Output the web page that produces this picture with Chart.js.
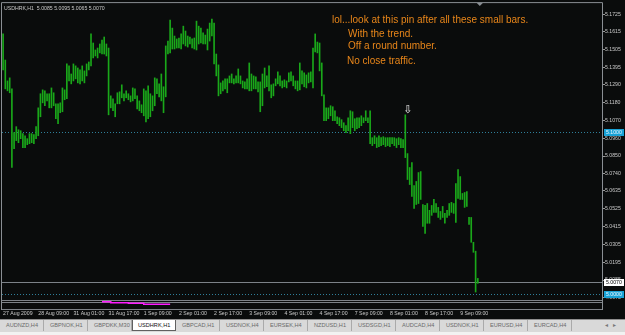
<!DOCTYPE html>
<html>
<head>
<meta charset="utf-8">
<script src="https://cdn.jsdelivr.net/npm/chart.js@4.4.1/dist/chart.umd.min.js"></script>
<style>
  html, body { margin: 0; padding: 0; background: #0a0c0c; width: 625px; height: 335px; overflow: hidden; }
  #wrap { position: relative; width: 625px; height: 319px; }
  #tabs { display: flex; height: 16px; background: #d9d9d9; border-top: 1px solid #8e8e8e; box-sizing: border-box;
          border-bottom: 3px solid #f2f2f2; font-family: 'Liberation Sans', Arial, sans-serif; }
  .tab { width: 44px; flex: none; box-sizing: border-box; padding-left: 6px; font-size: 5.6px; line-height: 11px;
         height: 11px; color: #6a6a6a; border-right: 1px solid #aaaaaa; white-space: nowrap; }
  .tab.active { background: #fff; color: #111; border: 1px solid #606060; border-top: none; padding-left: 5px; }
  .nav { margin-left: auto; padding-right: 4px; font-size: 6px; line-height: 11px; color: #777; letter-spacing: 5px; }
</style>
</head>
<body>
<div id="wrap"><canvas id="chart" width="625" height="319"></canvas></div>
<div id="tabs">
  <div class="tab">AUDNZD,H4</div>
  <div class="tab">GBPNOK,H1</div>
  <div class="tab">GBPDKK,M30</div>
  <div class="tab active">USDHRK,H1</div>
  <div class="tab">GBPCAD,H1</div>
  <div class="tab">USDNOK,H4</div>
  <div class="tab">EURSEK,H4</div>
  <div class="tab">NZDUSD,H1</div>
  <div class="tab">USDSGD,H1</div>
  <div class="tab">AUDCAD,H4</div>
  <div class="tab">USDNOK,H1</div>
  <div class="tab">EURUSD,H4</div>
  <div class="tab">EURCAD,H4</div>
  <div class="nav">◂▸</div>
</div>
<script>
// USDHRK H1 bars (high / low per bar)
const highs = [
  5.1603, 5.1442, 5.1313, 5.1332, 5.1264, 5.0994, 5.1031, 5.1012, 5.1006, 5.0988,
  5.0975, 5.0957, 5.0988, 5.0988, 5.0982, 5.1031, 5.1147, 5.1234, 5.1258, 5.1252,
  5.1234, 5.1234, 5.1270, 5.1240, 5.1172, 5.1172, 5.1178, 5.1270, 5.1258, 5.1418,
  5.1406, 5.1356, 5.1418, 5.1406, 5.1393, 5.1381, 5.1406, 5.1375, 5.1418, 5.1430,
  5.1603, 5.1547, 5.1504, 5.1516, 5.1541, 5.1565, 5.1584, 5.1541, 5.1516, 5.1221,
  5.1203, 5.1172, 5.1240, 5.1246, 5.1289, 5.1234, 5.1252, 5.1234, 5.1221, 5.1270,
  5.1264, 5.1221, 5.1190, 5.1166, 5.1264, 5.1252, 5.1283, 5.1234, 5.1221, 5.1332,
  5.1326, 5.1295, 5.1356, 5.1277, 5.1529, 5.1559, 5.1689, 5.1639, 5.1590, 5.1572,
  5.1578, 5.1603, 5.1651, 5.1621, 5.1590, 5.1584, 5.1572, 5.1578, 5.1682, 5.1651,
  5.1639, 5.1609, 5.1596, 5.1633, 5.1670, 5.1695, 5.1670, 5.1479, 5.1412, 5.1301,
  5.1313, 5.1326, 5.1326, 5.1344, 5.1356, 5.1326, 5.1344, 5.1387, 5.1344, 5.1313,
  5.1307, 5.1326, 5.1424, 5.1356, 5.1344, 5.1338, 5.1307, 5.1307, 5.1356, 5.1393,
  5.1344, 5.1406, 5.1289, 5.1295, 5.1326, 5.1369, 5.1344, 5.1313, 5.1320, 5.1313,
  5.1363, 5.1369, 5.1344, 5.1313, 5.1313, 5.1424, 5.1375, 5.1363, 5.1350, 5.1363,
  5.1369, 5.1516, 5.1603, 5.1553, 5.1547, 5.1424, 5.1227, 5.1147, 5.1147, 5.1160,
  5.1154, 5.1129, 5.1092, 5.1086, 5.1074, 5.1055, 5.1037, 5.1086, 5.1129, 5.1123,
  5.1080, 5.1086, 5.1086, 5.1098, 5.1086, 5.1129, 5.1086, 5.1129, 5.0963, 5.0975,
  5.0963, 5.0975, 5.0963, 5.0969, 5.0963, 5.0963, 5.0963, 5.0963, 5.0963, 5.0957,
  5.0963, 5.0957, 5.0951, 5.1104, 5.0865, 5.0779, 5.0809, 5.0668, 5.0693, 5.0748,
  5.0754, 5.0551, 5.0545, 5.0557, 5.0515, 5.0545, 5.0582, 5.0557, 5.0533, 5.0508,
  5.0539, 5.0496, 5.0515, 5.0557, 5.0564, 5.0557, 5.0680, 5.0766, 5.0723, 5.0619,
  5.0625, 5.0631, 5.0471, 5.0471, 5.0318, 5.0263, 5.0095
];
const lows = [
  5.1381, 5.1264, 5.1252, 5.1240, 5.0779, 5.0895, 5.0945, 5.0932, 5.0957, 5.0902,
  5.0902, 5.0920, 5.0926, 5.0932, 5.0926, 5.0957, 5.0975, 5.1092, 5.1178, 5.1160,
  5.1190, 5.1147, 5.1147, 5.1160, 5.1080, 5.1049, 5.1117, 5.1123, 5.1197, 5.1203,
  5.1313, 5.1295, 5.1313, 5.1326, 5.1301, 5.1295, 5.1313, 5.1301, 5.1344, 5.1381,
  5.1406, 5.1455, 5.1467, 5.1455, 5.1486, 5.1479, 5.1479, 5.1467, 5.1104, 5.1147,
  5.1129, 5.1092, 5.1172, 5.1172, 5.1209, 5.1190, 5.1209, 5.1197, 5.1184, 5.1190,
  5.1203, 5.1141, 5.1129, 5.1117, 5.1098, 5.1061, 5.1080, 5.1092, 5.1129, 5.1160,
  5.1234, 5.1215, 5.1190, 5.1117, 5.1215, 5.1479, 5.1486, 5.1510, 5.1510, 5.1516,
  5.1516, 5.1510, 5.1541, 5.1529, 5.1522, 5.1541, 5.1516, 5.1510, 5.1504, 5.1541,
  5.1547, 5.1541, 5.1541, 5.1504, 5.1559, 5.1590, 5.1418, 5.1344, 5.1221, 5.1234,
  5.1252, 5.1264, 5.1240, 5.1301, 5.1301, 5.1295, 5.1301, 5.1301, 5.1295, 5.1270,
  5.1264, 5.1264, 5.1252, 5.1252, 5.1264, 5.1264, 5.1246, 5.1123, 5.1160, 5.1270,
  5.1277, 5.1252, 5.1209, 5.1221, 5.1283, 5.1295, 5.1283, 5.1270, 5.1277, 5.1270,
  5.1307, 5.1313, 5.1283, 5.1264, 5.1252, 5.1258, 5.1295, 5.1277, 5.1270, 5.1301,
  5.1307, 5.1270, 5.1492, 5.1486, 5.1375, 5.1221, 5.1068, 5.1068, 5.1080, 5.1098,
  5.1068, 5.1068, 5.1049, 5.1037, 5.1025, 5.1006, 5.0994, 5.1006, 5.0988, 5.1025,
  5.1006, 5.1018, 5.1025, 5.1037, 5.1055, 5.1068, 5.1055, 5.0926, 5.0914, 5.0926,
  5.0902, 5.0908, 5.0914, 5.0920, 5.0908, 5.0914, 5.0908, 5.0926, 5.0914, 5.0902,
  5.0920, 5.0902, 5.0902, 5.0840, 5.0705, 5.0674, 5.0600, 5.0527, 5.0551, 5.0557,
  5.0582, 5.0416, 5.0373, 5.0435, 5.0435, 5.0484, 5.0502, 5.0502, 5.0471, 5.0459,
  5.0471, 5.0435, 5.0471, 5.0484, 5.0502, 5.0496, 5.0441, 5.0588, 5.0582, 5.0582,
  5.0533, 5.0539, 5.0428, 5.0318, 5.0256, 5.0011, 5.0065
];
const lastOHLC = [5.0085, 5.0095, 5.0065, 5.0070];

// indicator sub-window: the magenta signal line that is visible
const signalStart = 45;
const signalValues = [
  0.00073, 0.00073, 0.00073, 0.00073,
  0.00063, 0.00063, 0.00063, 0.00063, 0.00063, 0.00063, 0.00063, 0.00063,
  0.00057, 0.00057, 0.00057, 0.00057, 0.00057, 0.00057, 0.00057,
  0.00047, 0.00047, 0.00047, 0.00047, 0.00047, 0.00047, 0.00047, 0.00047,
  0.00047, 0.00047, 0.00047, 0.00047, 0.00047
];

// time axis: one label every 16 bars
const timeLabels = ['27 Aug 2009', '28 Aug 09:00', '31 Aug 01:00', '31 Aug 17:00', '1 Sep 09:00',
  '2 Sep 01:00', '2 Sep 17:00', '3 Sep 09:00', '4 Sep 01:00', '4 Sep 17:00', '7 Sep 09:00',
  '8 Sep 01:00', '8 Sep 17:00', '9 Sep 09:00'];
const labelStep = 16;
const slotCount = 273; // bars + empty chart shift on the right

const priceTicks = [5.1725, 5.1615, 5.1505, 5.1395, 5.1290, 5.1180, 5.1070, 5.0960, 5.0850,
  5.0740, 5.0635, 5.0525, 5.0415, 5.0305, 5.0195, 5.0085, 4.9975];
const levelLines = [5.1000, 5.0000];
const pinIndex = 183;

const notes = ['lol...look at this pin after all these small bars.', 'With the trend.',
  'Off a round number.', 'No close traffic.'];

const labels = Array.from({ length: slotCount }, (_, i) =>
  i % labelStep === 0 && i / labelStep < timeLabels.length ? timeLabels[i / labelStep] : '');
const signalData = labels.map((_, i) =>
  i >= signalStart && i < signalStart + signalValues.length ? signalValues[i - signalStart] : null);

const FONT = "'Liberation Sans', Arial, sans-serif";
const TXT = '#c9c9c9';

const mt4Overlay = {
  id: 'mt4Overlay',
  beforeDatasetsDraw(chart) {
    const { ctx, chartArea: a, scales: { y } } = chart;
    ctx.save();
    // dotted horizontal levels
    ctx.strokeStyle = '#2f7f9a';
    ctx.lineWidth = 1;
    ctx.setLineDash([1, 2]);
    levelLines.forEach(v => {
      const py = Math.round(y.getPixelForValue(v)) + 0.5;
      ctx.beginPath(); ctx.moveTo(a.left, py); ctx.lineTo(a.right, py); ctx.stroke();
    });
    ctx.setLineDash([]);
    // bid line
    const cy = Math.round(y.getPixelForValue(lastOHLC[3])) + 0.5;
    ctx.strokeStyle = '#7c8288';
    ctx.beginPath(); ctx.moveTo(a.left, cy); ctx.lineTo(a.right, cy); ctx.stroke();
    // indicator sub-window separators
    ctx.strokeStyle = '#7d8287';
    [1.5, 3.5, 10.5].forEach(d => {
      ctx.beginPath(); ctx.moveTo(a.left, a.bottom + d); ctx.lineTo(a.right, a.bottom + d); ctx.stroke();
    });
    ctx.restore();
  },
  afterDraw(chart) {
    const { ctx, chartArea: a, scales: { x, y } } = chart;
    ctx.save();
    // window frame
    ctx.strokeStyle = '#8a8f94';
    ctx.lineWidth = 1;
    ctx.beginPath();
    ctx.moveTo(a.left - 0.5, a.bottom + 11);
    ctx.lineTo(a.left - 0.5, a.top - 0.5);
    ctx.lineTo(a.right + 0.5, a.top - 0.5);
    ctx.lineTo(a.right + 0.5, a.bottom + 11);
    ctx.stroke();

    // chart shift marker
    const sx = x.getPixelForValue(highs.length - 1) + 2;
    ctx.fillStyle = '#8a8f94';
    ctx.beginPath(); ctx.moveTo(sx - 3, a.top); ctx.lineTo(sx + 3, a.top); ctx.lineTo(sx, a.top + 3); ctx.fill();

    // price boxes on the axis
    const box = (v, bg, fg) => {
      const py = y.getPixelForValue(v);
      ctx.fillStyle = bg;
      ctx.fillRect(a.right + 2, Math.round(py) - 3, 20, 7);
      ctx.fillStyle = fg;
      ctx.font = '5.2px ' + FONT;
      ctx.textBaseline = 'middle';
      ctx.textAlign = 'left';
      ctx.fillText(v.toFixed(4), a.right + 4, Math.round(py) + 0.5);
    };
    box(levelLines[0], '#19a2d6', '#e8f6ff');
    box(levelLines[1], '#19a2d6', '#e8f6ff');
    box(lastOHLC[3], '#ffffff', '#000000');

    // title
    ctx.fillStyle = TXT;
    ctx.font = '5.2px ' + FONT;
    ctx.textBaseline = 'alphabetic';
    ctx.textAlign = 'left';
    ctx.fillText('USDHRK,H1  ' + lastOHLC.map(v => v.toFixed(4)).join(' '), a.left + 2, a.top + 7);

    // arrow above the pin bar
    ctx.fillStyle = '#e6e6e6';
    ctx.font = "11px 'DejaVu Sans'";
    ctx.textAlign = 'center';
    ctx.textBaseline = 'bottom';
    ctx.fillText('⇩', x.getPixelForValue(pinIndex) + 2.5, y.getPixelForValue(highs[pinIndex]) + 0.5);

    // text notes
    ctx.fillStyle = '#e8861a';
    ctx.font = '10px ' + FONT;
    ctx.textAlign = 'left';
    ctx.textBaseline = 'alphabetic';
    ctx.fillText(notes[0], 332, 23);
    ctx.fillText(notes[1], 348, 37);
    ctx.fillText(notes[2], 348, 49);
    ctx.fillText(notes[3], 347, 64);
    ctx.restore();
  }
};

new Chart(document.getElementById('chart'), {
  type: 'bar',
  data: {
    labels: labels,
    datasets: [{
      data: highs.map((h, i) => [lows[i], h]),
      backgroundColor: '#1aa81a',
      borderWidth: 0,
      barThickness: 1,
      borderSkipped: false
    }, {
      type: 'line',
      data: signalData,
      yAxisID: 'ind',
      borderColor: '#ff1cff',
      borderWidth: 1.5,
      pointRadius: 0,
      stepped: true,
      spanGaps: false,
      clip: false
    }]
  },
  options: {
    responsive: false,
    animation: false,
    devicePixelRatio: 1,
    layout: { padding: { top: 2, left: 2, right: 0, bottom: 0 } },
    plugins: { legend: { display: false }, tooltip: { enabled: false } },
    scales: {
      x: {
        offset: true,
        grid: { display: true, drawOnChartArea: false, drawTicks: true, tickLength: 11, color: 'rgba(0,0,0,0)' },
        border: { display: false },
        ticks: {
          autoSkip: false, maxRotation: 0, minRotation: 0, align: 'start', padding: 0,
          color: TXT, font: { family: FONT, size: 5.2 }
        },
        afterFit: s => { s.height = 20; }
      },
      y: {
        position: 'right',
        min: 4.9968,
        max: 5.1793,
        afterBuildTicks: s => { s.ticks = priceTicks.map(v => ({ value: v })); },
        grid: { drawOnChartArea: false, drawTicks: true, tickLength: 3, color: '#9a9a9a' },
        border: { display: false },
        ticks: {
          autoSkip: false, padding: 0, color: TXT, font: { family: FONT, size: 5.2 },
          callback: v => v.toFixed(4)
        },
        afterFit: s => { s.width = 23; }
      },
      ind: {
        display: false,
        min: 0.001,
        max: 0.0307
      }
    }
  },
  plugins: [mt4Overlay]
});
</script>
</body>
</html>
